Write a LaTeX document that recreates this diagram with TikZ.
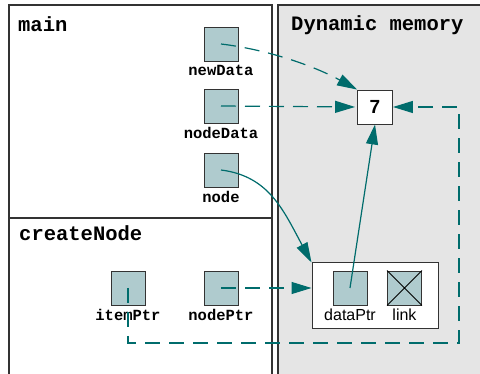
\documentclass[tikz,border=0pt]{standalone}
\usepackage{fontspec}
\setmainfont{Liberation Sans}
\setmonofont{Liberation Mono}
\usetikzlibrary{arrows.meta, positioning}
\definecolor{ptrcol}{RGB}{0,108,108}
\definecolor{boxfill}{RGB}{175,203,206}
\definecolor{heapgray}{RGB}{229,229,229}

\begin{document}
\begin{tikzpicture}[x = 1pt, y = -1pt,
  frame/.style = {draw = black!80, line width = 1.3pt},
  var/.style = {draw = black!80, fill = boxfill, line width = 0.9pt, minimum width = 34pt, minimum height = 34pt, inner sep = 0pt},
  title/.style = {anchor = base west, inner sep = 0pt, font = \ttfamily\bfseries\fontsize{20.5}{24}\selectfont},
  vname/.style = {font = \ttfamily\bfseries\fontsize{15.5}{18}\selectfont},
  fname/.style = {font = \fontsize{16}{19}\selectfont},
  ptr/.style = {draw = ptrcol, line width = 1.2pt, -{Triangle[length = 20pt, width = 12pt]}},
  dptr/.style = {ptr, dash pattern = on 15pt off 9pt}]
\useasboundingbox (0,0) rectangle (480,374);
\clip (0,0) rectangle (480,374);
% stack frames and heap
\filldraw[frame, fill = heapgray] (278,5) rectangle (486,380);
\draw[frame] (9,5) rectangle (272,218);
\draw[frame] (9,218) rectangle (272,380);
\node[title] (tmain) at (18,32) {main};
\node[title] (tcreate) at (19,241) {createNode};
\node[title] (theap) at (291,31) {Dynamic memory};
% variables in main
\node[var, label = {[vname]below:newData}] (newD) at (221,44) {};
\node[var, label = {[vname]below:nodeData}] (nodeD) at (221,106) {};
\node[var, label = {[vname]below:node}] (nodeV) at (221,170) {};
% variables in createNode
\node[var, label = {[vname]below:itemPtr}] (itemP) at (128,288) {};
\node[var, label = {[vname]below:nodePtr}] (nodeP) at (221,288) {};
% heap
\node[draw = black!80, fill = white, line width = 0.9pt, minimum width = 35pt, minimum height = 34pt, inner sep = 0pt, font = \bfseries\fontsize{19}{22}\selectfont] (seven) at (375,107) {7};
\node[draw = black!80, fill = white, line width = 1pt, minimum width = 126pt, minimum height = 66pt] (cell) at (375,296) {};
\node[var, label = {[fname]below:dataPtr}] (dataP) at (350,288) {};
\node[var, label = {[fname]below:link}] (link) at (404.5,288) {};
\draw[line width = 0.9pt] (link.north west) -- (link.south east) (link.north east) -- (link.south west);
% pointers
\coordinate (turn) at (459,343);
\draw[dptr] (newD.center) .. controls +(50,6) and +(-40,-22) .. (seven.north west);
\draw[dptr, shorten > = 2pt] (nodeD.center) -- (seven.west);
\draw[ptr] (nodeV.center) .. controls +(48,6) and +(-28,-52) .. (cell.north west);
\draw[dptr] (nodeP.center) -- (nodeP.center -| cell.west);
\draw[ptr] (dataP.center) -- (seven.south);
\draw[dptr] (itemP.center) |- (turn) |- (seven.east);
\end{tikzpicture}
\end{document}
